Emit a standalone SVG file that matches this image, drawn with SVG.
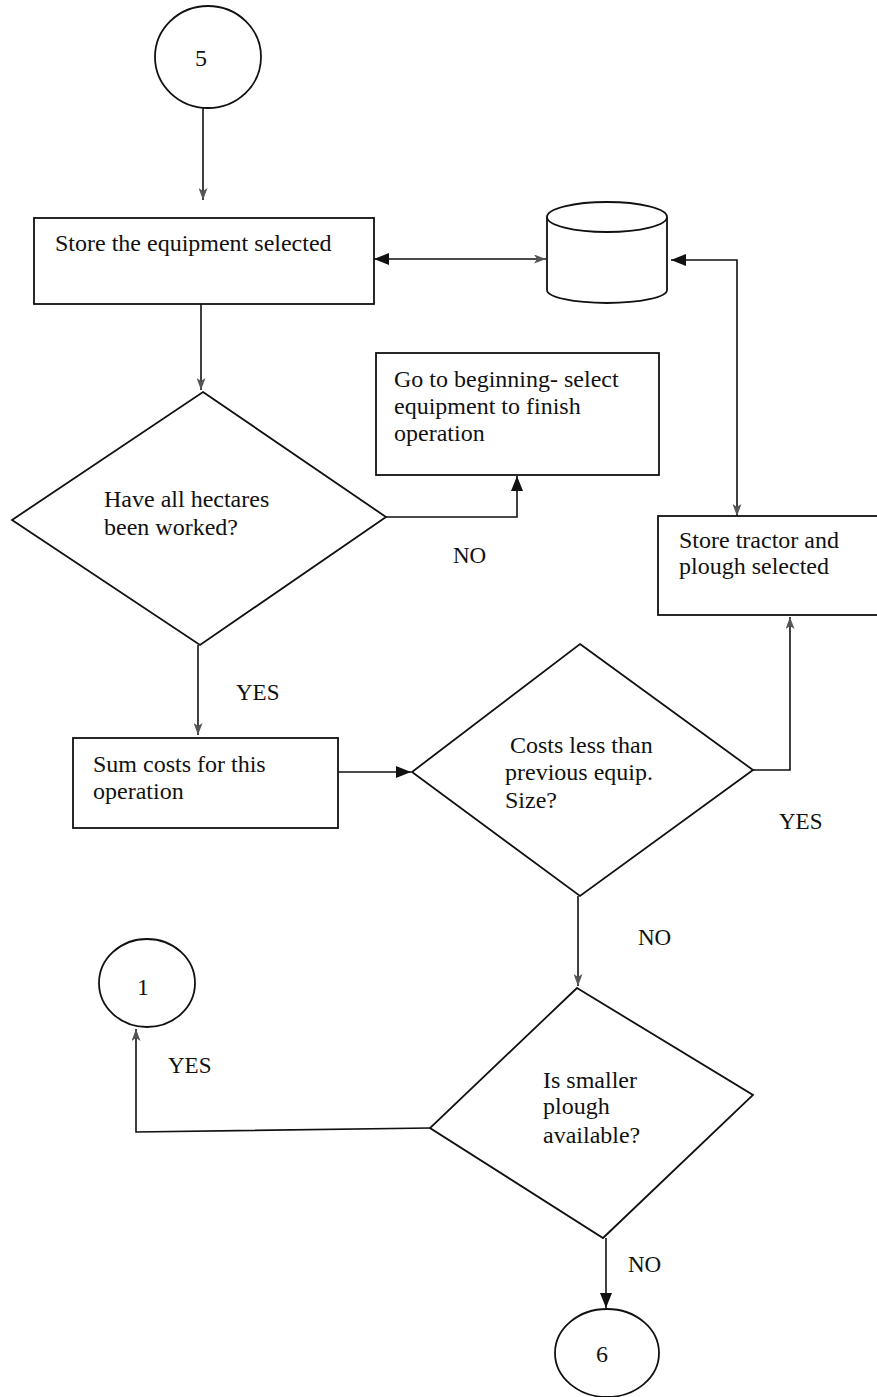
<svg xmlns="http://www.w3.org/2000/svg" width="877" height="1397" viewBox="0 0 877 1397">
<style>
.shape{fill:#fff;stroke:#111;stroke-width:1.8}
.conn{fill:none;stroke:#111;stroke-width:1.6}
.t{font-family:"Liberation Serif","Times New Roman",serif;font-size:24px;fill:#111}
.lbl{font-family:"Liberation Serif","Times New Roman",serif;font-size:23px;fill:#111}
.num{font-family:"Liberation Serif","Times New Roman",serif;font-size:24px;fill:#111;text-anchor:middle}
</style>
<defs>
<marker id="solid" viewBox="0 0 15 12" refX="15" refY="6" markerWidth="15" markerHeight="12" markerUnits="userSpaceOnUse" orient="auto-start-reverse">
<path d="M0,0 L15,6 L0,12 z" fill="#111"/>
</marker>
<marker id="small" viewBox="0 0 12 9" refX="12" refY="4.5" markerWidth="12" markerHeight="9" markerUnits="userSpaceOnUse" orient="auto-start-reverse">
<path d="M0,0 L12,4.5 L0,9 L3,4.5 z" fill="#555"/>
</marker>
</defs>
<rect width="877" height="1397" fill="#fff"/>

<g id="connectors">
<path class="conn" d="M203,108 V200" marker-end="url(#small)"/>
<path class="conn" d="M201,304 V390" marker-end="url(#small)"/>
<path class="conn" d="M374,259 H546" marker-start="url(#solid)" marker-end="url(#small)"/>
<path class="conn" d="M671,260 H737 V516" marker-start="url(#solid)" marker-end="url(#small)"/>
<path class="conn" d="M386,517 H517 V476" marker-end="url(#solid)"/>
<path class="conn" d="M198,645 V735" marker-end="url(#small)"/>
<path class="conn" d="M338,772 H411" marker-end="url(#solid)"/>
<path class="conn" d="M753,770 H790 V617" marker-end="url(#small)"/>
<path class="conn" d="M578,896 V986" marker-end="url(#small)"/>
<path class="conn" d="M430,1128 L136,1132 V1029" marker-end="url(#small)"/>
<path class="conn" d="M606,1238 V1308" marker-end="url(#solid)"/>
</g>

<g id="start5">
<ellipse class="shape" cx="208" cy="57" rx="53" ry="51"/>
<text class="num" x="201" y="66">5</text>
</g>

<g id="storeEquipment">
<rect class="shape" x="34" y="218" width="340" height="86"/>
<text class="t" x="55" y="251">Store the equipment selected</text>
</g>

<g id="database">
<path class="shape" d="M547,217 V290 A60,13 0 0 0 667,290 V217"/>
<ellipse class="shape" cx="607" cy="217" rx="60" ry="15"/>
</g>

<g id="goToBeginning">
<rect class="shape" x="376" y="353" width="283" height="122"/>
<text class="t" x="394" y="387">Go to beginning- select</text>
<text class="t" x="394" y="414">equipment to finish</text>
<text class="t" x="394" y="441">operation</text>
</g>

<g id="hectaresDecision">
<polygon class="shape" points="203,392 386,517 200,645 12,520"/>
<text class="t" x="104" y="507">Have all hectares</text>
<text class="t" x="104" y="535">been worked?</text>
</g>

<g id="storeTractor">
<rect class="shape" x="658" y="516" width="230" height="99"/>
<text class="t" x="679" y="548">Store tractor and</text>
<text class="t" x="679" y="574">plough selected</text>
</g>

<g id="sumCosts">
<rect class="shape" x="73" y="738" width="265" height="90"/>
<text class="t" x="93" y="772">Sum costs for this</text>
<text class="t" x="93" y="799">operation</text>
</g>

<g id="costsDecision">
<polygon class="shape" points="580,644 753,770 580,896 412,772"/>
<text class="t" x="510" y="753">Costs less than</text>
<text class="t" x="505" y="780">previous equip.</text>
<text class="t" x="505" y="808">Size?</text>
</g>

<g id="ploughDecision">
<polygon class="shape" points="577,988 753,1095 603,1238 430,1128"/>
<text class="t" x="543" y="1088">Is smaller</text>
<text class="t" x="543" y="1114">plough</text>
<text class="t" x="543" y="1143">available?</text>
</g>

<g id="connector1">
<ellipse class="shape" cx="147" cy="983" rx="48" ry="44"/>
<text class="num" x="143" y="995">1</text>
</g>

<g id="connector6">
<ellipse class="shape" cx="607" cy="1353" rx="52" ry="44"/>
<text class="num" x="602" y="1362">6</text>
</g>

<g id="labels">
<text class="lbl" x="453" y="563">NO</text>
<text class="lbl" x="236" y="700">YES</text>
<text class="lbl" x="779" y="829">YES</text>
<text class="lbl" x="638" y="945">NO</text>
<text class="lbl" x="168" y="1073">YES</text>
<text class="lbl" x="628" y="1272">NO</text>
</g>
</svg>
